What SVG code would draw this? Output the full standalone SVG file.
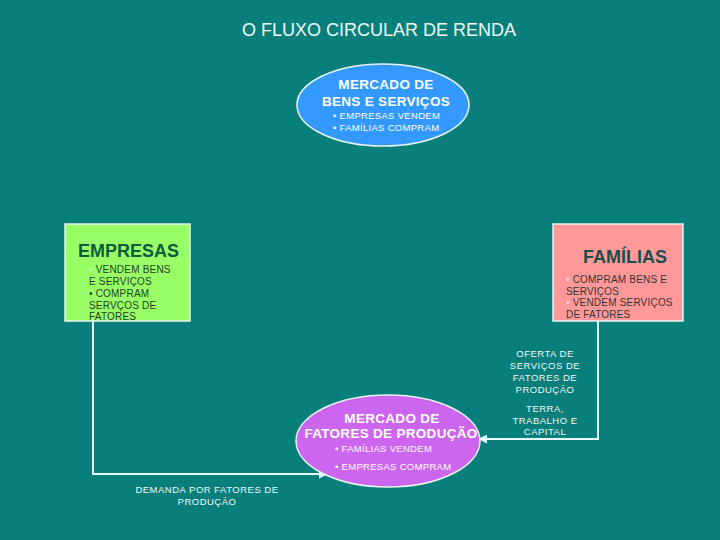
<svg xmlns="http://www.w3.org/2000/svg" width="720" height="540" viewBox="0 0 720 540">
<defs>
<style>
text{font-family:"Liberation Sans",Arial,sans-serif}
.t{fill:#eef8f8;font-size:18px}
.hb{fill:#ffffff;font-size:13.5px;font-weight:bold;text-anchor:middle;letter-spacing:0.3px}
.sm{fill:#ffffff;font-size:9.5px;letter-spacing:0.3px}
.lab{fill:#eef8f8;font-size:9.5px;letter-spacing:0.5px;text-anchor:middle}
.bx{stroke:#e8f4f0;stroke-width:1.5}
.ln{stroke:#e8fbff;stroke-width:2;fill:none}
</style>
<marker id="ah" viewBox="0 0 10 10" refX="9" refY="5" markerWidth="4.5" markerHeight="4.5" orient="auto" markerUnits="strokeWidth">
<path d="M0,0 L10,5 L0,10 z" fill="#e8fbff"/>
</marker>
</defs>
<rect x="0" y="0" width="720" height="540" fill="#087f7b"/>
<text class="t" x="379" y="36" text-anchor="middle">O FLUXO CIRCULAR DE RENDA</text>

<g id="connectors">
<path class="ln" d="M93,321 L93,474 L327,474" marker-end="url(#ah)"/>
<path class="ln" d="M598,321 L598,439 L479,439" marker-end="url(#ah)"/>
</g>

<g id="mercado-bens">
<ellipse cx="383" cy="105" rx="86" ry="41" fill="#3399ff" class="bx"/>
<text class="hb" x="386" y="89">MERCADO DE</text>
<text class="hb" x="386" y="106">BENS E SERVIÇOS</text>
<text class="sm" x="333" y="119">• EMPRESAS VENDEM</text>
<text class="sm" x="333" y="131">• FAMÍLIAS COMPRAM</text>
</g>

<g id="empresas">
<rect x="65" y="224" width="125" height="97" fill="#99ff66" class="bx"/>
<text x="78" y="257" font-size="18" font-weight="bold" fill="#0d5a3c">EMPRESAS</text>
<g font-size="10" fill="#1f3d1f" letter-spacing="0.2">
<text x="89" y="273"><tspan fill="#d8ffd0">•</tspan> VENDEM BENS</text>
<text x="89" y="285">E SERVIÇOS</text>
<text x="89" y="297">• COMPRAM</text>
<text x="89" y="309"> SERVÇOS DE</text>
<text x="89" y="320">FATORES</text>
</g>
</g>

<g id="familias">
<rect x="553" y="224" width="130" height="97" fill="#ff9999" class="bx"/>
<text x="583" y="263" font-size="18" font-weight="bold" fill="#1d4d4a">FAMÍLIAS</text>
<g font-size="10" fill="#333333" letter-spacing="0.2">
<text x="566" y="283"><tspan fill="#ffd8d8">•</tspan> COMPRAM BENS E</text>
<text x="566" y="295">SERVIÇOS</text>
<text x="566" y="306"><tspan fill="#ffd8d8">•</tspan> VENDEM SERVIÇOS</text>
<text x="566" y="318">DE FATORES</text>
</g>
</g>

<g id="mercado-fatores">
<ellipse cx="388" cy="441" rx="92" ry="46" fill="#cc66ee" class="bx"/>
<text class="hb" x="392" y="423">MERCADO DE</text>
<text class="hb" x="391" y="438">FATORES DE PRODUÇÃO</text>
<text class="sm" x="335" y="452">• FAMÍLIAS VENDEM</text>
<text class="sm" x="335" y="470">• EMPRESAS COMPRAM</text>
</g>

<g id="labels">
<text class="lab" x="545" y="357">OFERTA DE</text>
<text class="lab" x="545" y="369">SERVIÇOS DE</text>
<text class="lab" x="545" y="381">FATORES DE</text>
<text class="lab" x="545" y="393">PRODUÇÃO</text>
<text class="lab" x="545" y="412">TERRA,</text>
<text class="lab" x="545" y="424">TRABALHO E</text>
<text class="lab" x="545" y="435">CAPITAL</text>
<text class="lab" x="207" y="493">DEMANDA POR FATORES DE</text>
<text class="lab" x="207" y="505">PRODUÇÃO</text>
</g>
</svg>
